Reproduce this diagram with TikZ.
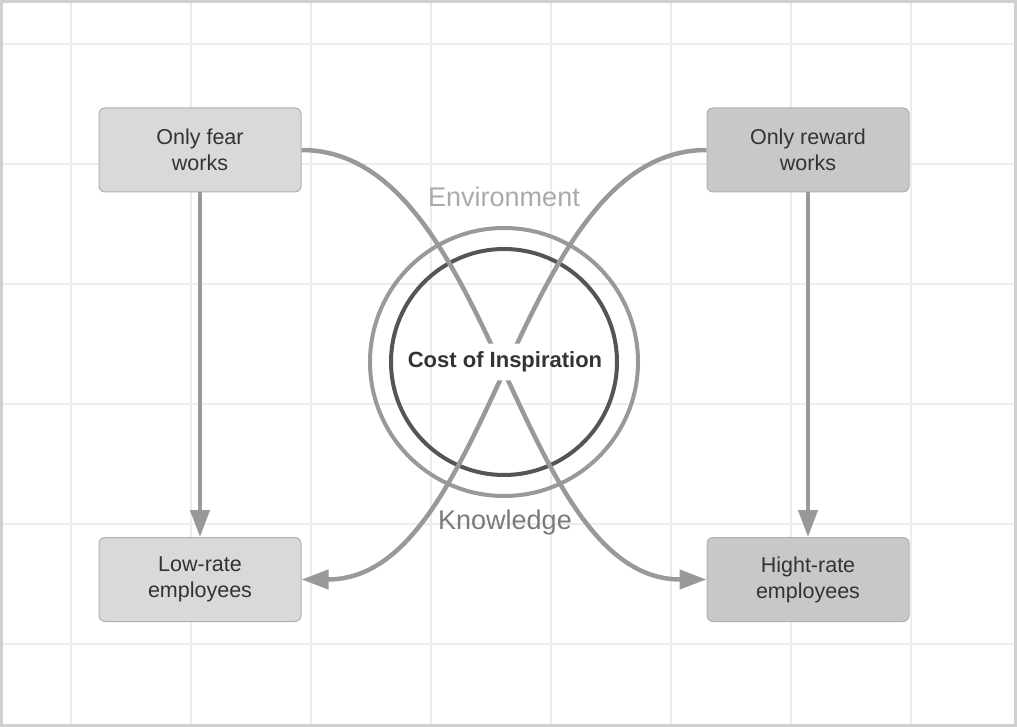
\documentclass[tikz,border=0pt]{standalone}
\usepackage{fontspec}
\setmainfont{Liberation Sans}
\usetikzlibrary{arrows.meta}
\definecolor{gridc}{HTML}{ECECEC}
\definecolor{framec}{HTML}{D0D0D0}
\definecolor{boxa}{HTML}{D9D9D9}
\definecolor{boxb}{HTML}{C8C8C8}
\definecolor{boxline}{HTML}{B0B0B0}
\definecolor{txt}{HTML}{333333}
\definecolor{arrc}{HTML}{999999}
\definecolor{innerc}{HTML}{555555}
\definecolor{envc}{HTML}{AAAAAA}
\definecolor{knowc}{HTML}{7A7A7A}
\tikzset{
  boxnode/.style={draw=boxline, line width=1pt, rounded corners=6pt,
    minimum width=202pt, minimum height=84pt, align=center, text=txt,
    font=\fontsize{21.5}{26}\selectfont},
  conn/.style={draw=arrc, line width=4.5pt,
    -{Triangle[length=27pt,width=19pt]}},
  ringnode/.style={circle, draw, line width=4pt, inner sep=0pt},
  lbl/.style={font=\fontsize{27}{31}\selectfont}
}
\begin{document}
\begin{tikzpicture}[x=1pt,y=-1pt]
\useasboundingbox (0,0) rectangle (1017,727);
% grid
\foreach \gx in {71,191,...,911} \draw[gridc, line width=1.5pt] (\gx,3) -- (\gx,724);
\foreach \gy in {44,164,...,644} \draw[gridc, line width=1.5pt] (3,\gy) -- (1014,\gy);
% frame
\draw[framec, line width=3pt] (1.5,1.5) rectangle (1015.5,725.5);
% boxes
\node[boxnode, fill=boxa] (fear) at (200,150) {Only fear\\works};
\node[boxnode, fill=boxb] (reward) at (808,150) {Only reward\\works};
\node[boxnode, fill=boxa] (low) at (200,579.5) {Low-rate\\employees};
\node[boxnode, fill=boxb] (high) at (808,579.5) {Hight-rate\\employees};
% rings
\node[ringnode, draw=arrc, minimum size=268pt] (outer) at (504,362) {};
\node[ringnode, draw=innerc, minimum size=226pt] (inner) at (504,362) {};
% centre label (connectors pass behind it with a gap)
\node[inner xsep=1pt, inner ysep=8pt, text=txt, font=\bfseries\fontsize{22}{26}\selectfont] (cost) at (505,362) {Cost of Inspiration};
% connectors
\draw[conn] (fear.south) -- (low.north);
\draw[conn] (reward.south) -- (high.north);
\begin{scope}[even odd rule]
\clip (0,0) rectangle (1017,727) (cost.south west) rectangle (cost.north east);
\draw[conn] (fear.east) .. controls +(192,0) and +(-192,0) .. (high.west);
\draw[conn] (reward.west) .. controls +(-192,0) and +(192,0) .. (low.east);
\end{scope}
% labels
\node[lbl, text=envc] (env) at (504,197) {Environment};
\node[lbl, text=knowc] (know) at (505,523) {Knowledge};
\end{tikzpicture}
\end{document}
